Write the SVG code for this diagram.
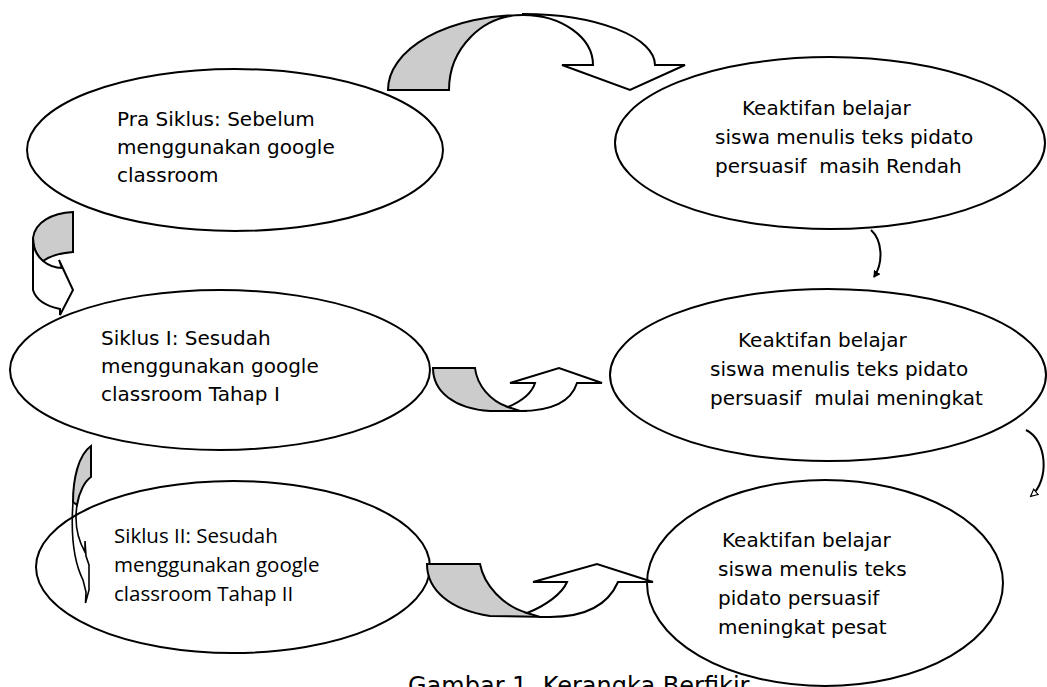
<svg xmlns="http://www.w3.org/2000/svg" width="1047" height="687" viewBox="0 0 1047 687">
<style>
.bg{fill:#fff}
.node ellipse{fill:#fff;stroke:#000;stroke-width:2}
.t{font-family:"DejaVu Sans",Verdana,sans-serif;font-size:20px;fill:#000;white-space:pre}
.c{font-family:"Open Sans","Noto Sans",sans-serif;font-size:20.5px;fill:#000}
.cap{font-family:"DejaVu Sans",Verdana,sans-serif;font-size:24px;fill:#000}
.gray{fill:#cccccc;stroke:#000;stroke-width:2;stroke-linejoin:miter}
.front{fill:#fff;stroke:#000;stroke-width:2}
.open{fill:none;stroke:#000;stroke-width:1.6}
.thin{fill:none;stroke:#000;stroke-width:2}
</style>
<defs>
<marker id="mBlack" markerWidth="8" markerHeight="8" refX="6" refY="4" orient="auto" markerUnits="userSpaceOnUse">
<path d="M0,0 L7,4 L0,8 Z" fill="#000"/>
</marker>
<marker id="mOpen" markerWidth="10" markerHeight="10" refX="7" refY="4" orient="auto" markerUnits="userSpaceOnUse">
<path d="M0.5,0.5 L7.5,4 L0.5,7.5 Z" fill="#fff" stroke="#000" stroke-width="1.2"/>
</marker>
</defs>
<rect class="bg" x="0" y="0" width="1047" height="687"/>
<text class="cap" x="408" y="694">Gambar 1. Kerangka Berfikir</text>

<g id="node-prasiklus" class="node">
<ellipse cx="235" cy="150" rx="208" ry="81"/>
<text class="t" x="117" y="126">Pra Siklus: Sebelum</text>
<text class="t" x="117" y="154">menggunakan google</text>
<text class="t" x="117" y="182">classroom</text>
</g>
<g id="node-rendah" class="node">
<ellipse cx="830" cy="143" rx="215" ry="86"/>
<text class="t" x="742" y="115">Keaktifan belajar</text>
<text class="t" x="715" y="144">siswa menulis teks pidato</text>
<text class="t" x="715" y="173" xml:space="preserve">persuasif  masih Rendah</text>
</g>
<g id="node-siklus1" class="node">
<ellipse cx="220" cy="370" rx="210" ry="80"/>
<text class="t" x="101" y="345">Siklus I: Sesudah</text>
<text class="t" x="101" y="373">menggunakan google</text>
<text class="t" x="101" y="401">classroom Tahap I</text>
</g>
<g id="node-mulai" class="node">
<ellipse cx="828" cy="375" rx="218" ry="86"/>
<text class="t" x="738" y="347">Keaktifan belajar</text>
<text class="t" x="710" y="376">siswa menulis teks pidato</text>
<text class="t" x="710" y="405" xml:space="preserve">persuasif  mulai meningkat</text>
</g>
<g id="node-siklus2" class="node">
<ellipse cx="233" cy="567" rx="197" ry="86"/>
<text class="c" x="114" y="543">Siklus II: Sesudah</text>
<text class="c" x="114" y="572">menggunakan google</text>
<text class="c" x="114" y="601">classroom Tahap II</text>
</g>
<g id="node-pesat" class="node">
<ellipse cx="825" cy="583" rx="178" ry="103"/>
<text class="t" x="722" y="547">Keaktifan belajar</text>
<text class="t" x="718" y="576">siswa menulis teks</text>
<text class="t" x="718" y="605">pidato persuasif</text>
<text class="t" x="718" y="634">meningkat pesat</text>
</g>

<g id="connectors">
<g id="arrow-top">
<path class="gray" d="M388,90 A135,75 0 0 1 523,15 A74,75 0 0 0 449,90 Z"/>
<path class="front" d="M523,15 A70,50 0 0 1 593,65 L562,65 L630,90 L685,65 L655,65 A132,51 0 0 0 523,14 Z"/>
</g>
<g id="arrow-left1">
<path class="gray" d="M73,212 L73,252 C60,253 50,256 43,261 C37,256 33,248 33,238 C35,222 52,213 73,212 Z"/>
<path class="front" d="M33,238 L33,290 C36,300 46,306 60,309 L60,315 L73,290 L59,260 L62,268 C55,268 48,265 43,261 C37,256 33,248 33,238 Z"/>
</g>
<g id="arrow-left2">
<path class="gray" d="M91,446 L91,477 C85,481 79,492 77,505 L73,502 C73,480 78,455 91,446 Z"/>
<path class="open" d="M73,502 C71,530 73,560 83,580 L86,592 L85.5,603 L89,590 L89,565 L86,556 L85,541 L85,552 C78,540 74,525 77,505"/>
</g>
<g id="arrow-mid">
<path class="gray" d="M433,368 L475,368 C477,385 490,401 508,407 L527,411 L490,411 C455,409 433,392 433,368 Z"/>
<path class="front" d="M508,407 C522,401 532,393 535,383 L510,383 L559,368 L602,383 L577,383 C571,402 552,411 520,411 Z"/>
</g>
<g id="arrow-bottom">
<path class="gray" d="M427,564 L480,564 C484,585 503,606 527,613 L550,617 L490,616 C450,610 427,590 427,564 Z"/>
<path class="front" d="M527,613 C545,606 562,594 567,582 L533,582 L597,564 L653,582 L618,582 C608,605 585,617 550,617 L540,617 Z"/>
</g>
<path id="arrow-right1" class="thin" d="M871,230 C882,240 884,262 874,277" marker-end="url(#mBlack)"/>
<path id="arrow-right2" class="thin" d="M1026,430 C1047,440 1050,480 1031,496" marker-end="url(#mOpen)"/>
</g>
</svg>
